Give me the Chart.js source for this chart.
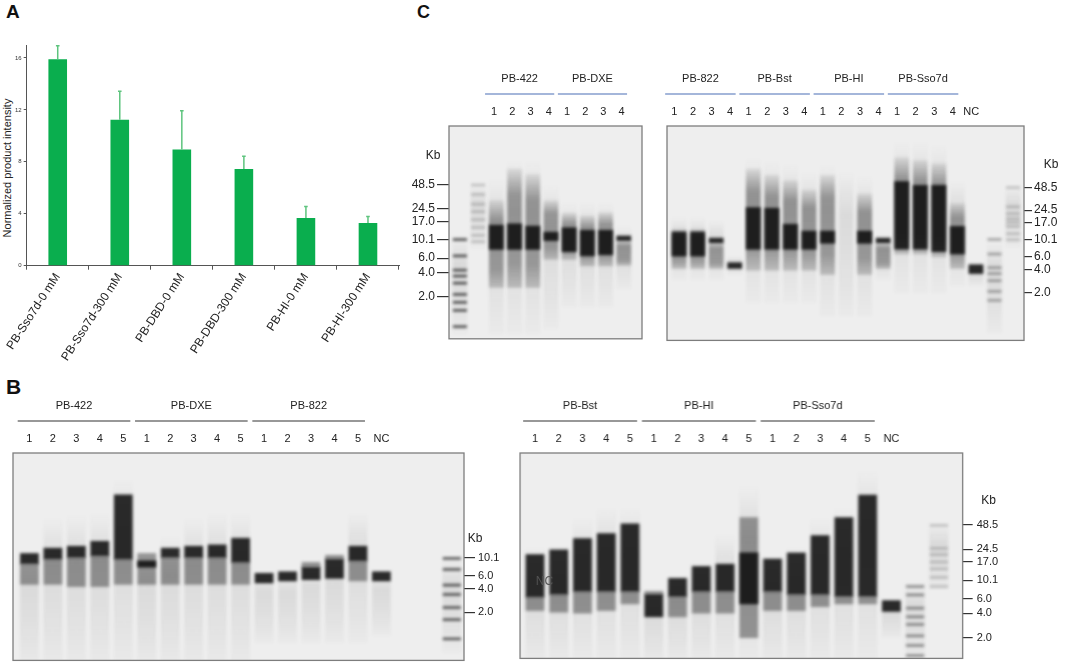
<!DOCTYPE html>
<html lang="en">
<head>
<meta charset="UTF-8">
<title>PB fusion polymerases</title>
<script src="https://cdn.jsdelivr.net/npm/chart.js"></script>
<style>
  body { margin: 0; background: #fff; font-family: Arial, "Liberation Sans", sans-serif; color: #222; }
  #page { position: relative; width: 1065px; height: 671px; overflow: hidden; }
  .box { position: absolute; }
  .letter { position: absolute; font-weight: bold; line-height: 1; color: #111; }
  #ytitle { position: absolute; left: 7px; top: 168px; font-size: 11px; white-space: nowrap; color: #222;
            transform: translate(-50%, -50%) rotate(-90deg); }
</style>
</head>
<body>
<div id="page">
  <div class="letter" style="left:6px;top:1.5px;font-size:19px">A</div>
  <div class="letter" style="left:6px;top:375.5px;font-size:21px">B</div>
  <div class="letter" style="left:417px;top:2.7px;font-size:18px">C</div>
  <div id="ytitle">Normalized product intensity</div>

  <div class="box" style="left:0;top:0;width:410px;height:370px"><canvas id="barChart"></canvas></div>
  <div class="box" style="left:404px;top:65.7px;width:240px;height:282px"><canvas id="gelC1"></canvas></div>
  <div class="box" style="left:665px;top:65.7px;width:399px;height:283.6px"><canvas id="gelC2"></canvas></div>
  <div class="box" style="left:11.3px;top:393.3px;width:495px;height:277px"><canvas id="gelB1"></canvas></div>
  <div class="box" style="left:518px;top:392.7px;width:488.7px;height:276px"><canvas id="gelB2"></canvas></div>
</div>

<script>
Chart.defaults.font.family = 'Arial, "Liberation Sans", sans-serif';
Chart.defaults.color = '#222';

// ---- panel A: normalized product intensity ----
const samples = ['PB-Sso7d-0 mM', 'PB-Sso7d-300 mM', 'PB-DBD-0 mM', 'PB-DBD-300 mM', 'PB-HI-0 mM', 'PB-HI-300 mM'];
const intensity = [15.9, 11.25, 8.95, 7.45, 3.68, 3.28];
const intensitySd = [1.05, 2.18, 2.98, 0.99, 0.88, 0.51];

// ---- gel data: bands as [low kb, high kb] per lane ----
const kbTicks = [48.5, 24.5, 17.0, 10.1, 6.0, 4.0, 2.0];
const kbTicksShort = [10.1, 6.0, 4.0, 2.0];

// C, left gel
const gelC1Lanes = ['', '', '1', '2', '3', '4', '1', '2', '3', '4'];
const gelC1Groups = [{ name: 'PB-422', from: 2, to: 5 }, { name: 'PB-DXE', from: 6, to: 9 }];
const gelC1Core = [null, null, [7.7, 15.4], [7.7, 16], [7.7, 15], [9.9, 12.6], [7.2, 14.3], [6.4, 13.3], [6.6, 13.3], [9.9, 11.3]];
const gelC1Body = [null, null, [2.6, 31], [2.6, 77], [2.6, 65], [5.8, 31], [5.8, 21.6], [4.8, 20], [4.8, 22], [4.9, 9.9]];
const gelC1Faint = [[0.7, 12], [8, 50], [0.7, 60], [0.7, 100], [0.7, 100], [0.8, 50], [1.5, 30], [1.5, 30], [1.5, 30], [2.5, 15]];
const gelC1LadderDark = [10.2, 6.4, 4.26, 3.6, 2.94, 2.13, 1.7, 1.35, 0.85];
const gelC1LadderLight = [48.5, 37, 28, 22.6, 18, 14.4, 11.5, 9.6];

// C, right gel
const gelC2Lanes = ['1', '2', '3', '4', '1', '2', '3', '4', '1', '2', '3', '4', '1', '2', '3', '4', 'NC', '', ''];
const gelC2Groups = [{ name: 'PB-822', from: 0, to: 3 }, { name: 'PB-Bst', from: 4, to: 7 },
                     { name: 'PB-HI', from: 8, to: 11 }, { name: 'PB-Sso7d', from: 12, to: 15 }];
const gelC2Core = [[6.1, 12.7], [6.1, 12.7], [9.1, 10.5], [4.2, 5.0], [7.5, 26.5], [7.5, 26], [7.5, 16], [7.5, 13],
                   [9, 13], null, [9, 13], [9.1, 10.5], [7.5, 58], [7.5, 52], [7.0, 52], [6.5, 15], [3.6, 4.7], null, null];
const gelC2Body = [[4.2, 13.8], [4.2, 13.8], [4.2, 9.1], null, [4, 85], [4, 70], [4, 60], [4, 45],
                   [3.5, 70], null, [3.5, 40], [4.2, 9.1], [6.5, 120], [6.5, 110], [6.0, 100], [4.2, 30], null, null, null];
const gelC2Faint = [[3, 20], [3, 20], [3, 18], [3.5, 6], [1.5, 120], [1.5, 110], [1.5, 100], [1.5, 80],
                    [1, 100], [1, 80], [1, 70], [3, 12], [2, 200], [2, 200], [2, 180], [2.5, 60], [2.5, 5], [0.6, 10], [8, 50]];
const gelC2LadderDark = [10.1, 6.5, 4.3, 3.6, 2.9, 2.1, 1.6];
const gelC2LadderLight = [48.5, 27, 22, 19, 17, 15, 12, 10];

// B, left gel
const gelB1Lanes = ['1', '2', '3', '4', '5', '1', '2', '3', '4', '5', '1', '2', '3', '4', '5', 'NC', '', '', ''];
const gelB1Groups = [{ name: 'PB-422', from: 0, to: 4 }, { name: 'PB-DXE', from: 5, to: 9 }, { name: 'PB-822', from: 10, to: 14 }];
const gelB1Core = [[8.5, 11.6], [9.8, 13.6], [10.3, 14.4], [10.8, 16.7], [9.8, 67], [7.7, 9.3], [10.3, 13.6], [10.3, 14.4],
                   [10.3, 15.0], [8.9, 18.3], [4.8, 6.4], [5.1, 6.7], [5.3, 7.7], [5.5, 9.8], [9.3, 14.4], [5.1, 6.7], null, null, null];
const gelB1Body = [[4.6, 8.5], [4.6, 9.8], [4.3, 10.3], [4.3, 10.8], [4.6, 9.8], [4.6, 11.6], [4.6, 10.3], [4.6, 10.3],
                   [4.6, 10.3], [4.6, 8.9], null, null, [7.7, 8.9], [9.8, 11.0], [5.1, 9.3], null, null, null, null];
const gelB1Faint = [[0.4, 12], [0.4, 34], [0.4, 38], [0.4, 40], [0.4, 110], [0.4, 13], [0.4, 20], [0.4, 34],
                    [0.4, 40], [0.4, 40], [0.8, 7], [0.8, 7], [0.8, 9], [0.8, 11], [0.8, 40], [1.0, 7], null, null, [0.6, 11]];
const gelB1Ladder = [10.0, 7.2, 4.5, 3.4, 2.3, 1.6, 0.9];

// B, right gel
const gelB2Lanes = ['1', '2', '3', '4', '5', '1', '2', '3', '4', '5', '1', '2', '3', '4', '5', 'NC', '', ''];
const gelB2Groups = [{ name: 'PB-Bst', from: 0, to: 4 }, { name: 'PB-HI', from: 5, to: 9 }, { name: 'PB-Sso7d', from: 10, to: 14 }];
const gelB2Core = [[6.3, 21], [6.8, 24], [7.4, 33], [7.4, 38], [7.4, 50], [3.6, 6.8], [6.4, 10.7], [7.4, 15], [7.4, 16],
                   [5.2, 22], [7.4, 18.5], [6.8, 22], [6.8, 36], [6.4, 60], [6.4, 113], [4.2, 5.7], null, null];
const gelB2Body = [[4.3, 6.3], [4.1, 6.8], [4.0, 7.4], [4.3, 7.4], [5.2, 7.4], [6.8, 7.4], [3.6, 6.4], [4.0, 7.4], [4.0, 7.4],
                   [2.0, 60], [4.3, 7.4], [4.3, 6.8], [4.8, 6.8], [5.2, 6.4], [5.2, 6.4], null, null, null];
const gelB2Faint = [[1.0, 26], [1.0, 28], [1.0, 60], [1.0, 80], [1.0, 80], [1.0, 8], [1.0, 12], [1.0, 18], [1.0, 38],
                    [1.0, 150], [1.0, 21], [1.0, 26], [1.0, 60], [1.0, 80], [1.0, 233], [2.0, 5.7], [1.0, 10], [8, 50]];
const gelB2LadderDark = [8.5, 6.7, 4.6, 3.6, 2.9, 2.1, 1.6, 1.2];
const gelB2LadderLight = [48, 25, 21, 17, 14, 11, 8.5];

// ---- panel A chart ----
const errorBars = {
  id: 'errorBars',
  afterDatasetsDraw(chart) {
    const { ctx, scales: { y } } = chart;
    const meta = chart.getDatasetMeta(0);
    ctx.save();
    ctx.strokeStyle = '#5ec47e';
    ctx.lineWidth = 1.5;
    meta.data.forEach((bar, i) => {
      const top = y.getPixelForValue(intensity[i] + intensitySd[i]);
      ctx.beginPath();
      ctx.moveTo(bar.x, bar.y);
      ctx.lineTo(bar.x, top);
      ctx.moveTo(bar.x - 1.8, top);
      ctx.lineTo(bar.x + 1.8, top);
      ctx.stroke();
    });
    ctx.restore();
  }
};

new Chart(document.getElementById('barChart'), {
  type: 'bar',
  data: {
    labels: samples,
    datasets: [{ data: intensity, backgroundColor: '#0aae4e', barPercentage: 0.3, categoryPercentage: 1 }]
  },
  options: {
    responsive: true,
    maintainAspectRatio: false,
    animation: false,
    layout: { padding: { top: 45, right: 11, left: 0, bottom: 0 } },
    plugins: { legend: { display: false }, tooltip: { enabled: false } },
    scales: {
      x: {
        grid: { drawOnChartArea: false, offset: true, tickLength: 4, color: '#555' },
        border: { color: '#555' },
        ticks: { minRotation: 57, maxRotation: 57, padding: 1, font: { size: 12 }, color: '#222' },
        afterFit: s => { s.height = 104.3; }
      },
      y: {
        min: 0,
        max: 17,
        ticks: { stepSize: 4, includeBounds: false, padding: 2, font: { size: 6 }, color: '#333' },
        grid: { drawOnChartArea: false, tickLength: 3, color: '#555' },
        border: { color: '#555' },
        afterFit: s => { s.width = 26.7; }
      }
    }
  },
  plugins: [errorBars]
});

// ---- gels ----
// smears fade out towards their top end
function fadeFill(stops) {
  return c => {
    const p = c.parsed && c.parsed._custom;
    const y = c.chart.scales.y;
    if (!p || !y) return `rgba(25,25,25,${stops[1][1]})`;
    const top = y.getPixelForValue(p.max);
    const bot = y.getPixelForValue(p.min);
    if (!isFinite(top) || !isFinite(bot) || bot - top < 1) return `rgba(25,25,25,${stops[1][1]})`;
    const g = c.chart.ctx.createLinearGradient(0, top, 0, bot);
    stops.forEach(([o, a]) => g.addColorStop(o, `rgba(25,25,25,${a})`));
    return g;
  };
}

function gelDeco(g) {
  return {
    id: 'gelDeco',
    beforeDatasetsDraw(chart) {
      const { ctx, chartArea: a } = chart;
      ctx.save();
      ctx.fillStyle = '#eeeeee';
      ctx.fillRect(a.left, a.top, a.width, a.height);
      ctx.beginPath();
      ctx.rect(a.left, a.top, a.width, a.height);
      ctx.clip();
      ctx.filter = 'blur(1.6px)';
    },
    afterDatasetsDraw(chart) {
      const { ctx, chartArea: a, scales: { x, y } } = chart;
      ctx.restore();
      ctx.save();
      ctx.strokeStyle = '#7d7d7d';
      ctx.lineWidth = 1.3;
      ctx.strokeRect(a.left, a.top, a.width, a.height);

      ctx.fillStyle = '#222';
      ctx.font = '11px Arial, "Liberation Sans", sans-serif';
      ctx.textAlign = 'center';
      ctx.textBaseline = 'middle';
      g.lanes.forEach((t, i) => ctx.fillText(t, x.getPixelForValue(i + g.shift), a.top - 14));

      ctx.strokeStyle = g.lineColor;
      ctx.lineWidth = 1.2;
      g.groups.forEach(gr => {
        const x0 = x.getPixelForValue(gr.from - 0.5 + g.shift);
        const x1 = x.getPixelForValue(gr.to + 0.3 + g.shift);
        ctx.fillText(gr.name, (x0 + x1) / 2, a.top - 47);
        ctx.beginPath();
        ctx.moveTo(x0, a.top - 32);
        ctx.lineTo(x1, a.top - 32);
        ctx.stroke();
      });

      ctx.font = '12px Arial, "Liberation Sans", sans-serif';
      const side = g.axis === 'left' ? a.left : a.right;
      ctx.fillText('Kb', side + g.kbDx, y.getPixelForValue(g.ticks[0]) - g.kbDy);

      if (g.note) {
        ctx.fillStyle = '#555';
        ctx.fillText(g.note.text, x.getPixelForValue(g.note.lane), y.getPixelForValue(g.note.kb));
      }
      ctx.restore();
    }
  };
}

function makeGel(id, g) {
  const toBars = arr => arr.map((r, i) => (r ? { x: i, y: r } : null)).filter(Boolean);
  const bodyFill = g.bodyFade
    ? fadeFill([[0, 0.08], [0.22, 0.38], [0.8, 0.36], [1, 0.2]])
    : 'rgba(30,30,30,0.42)';
  const datasets = [
    { data: toBars(g.core), backgroundColor: 'rgba(10,10,10,0.86)' },
    { data: toBars(g.body), backgroundColor: bodyFill },
    { data: toBars(g.faint), backgroundColor: fadeFill([[0, 0], [0.3, 0.09], [0.6, 0.07], [1, 0.02]]) }
  ];
  g.ladders.forEach(l => datasets.push({
    type: 'line',
    data: l.kb.map(k => ({ x: l.lane, y: k })),
    showLine: false,
    pointStyle: 'line',
    pointRadius: g.bar / 2,
    pointBorderWidth: 2.6,
    pointBorderColor: l.color
  }));

  new Chart(document.getElementById(id), {
    type: 'bar',
    data: { datasets },
    options: {
      responsive: true,
      maintainAspectRatio: false,
      animation: false,
      layout: { padding: g.pad, autoPadding: false },
      datasets: { bar: { grouped: false, barThickness: g.bar, borderWidth: 0, borderSkipped: false } },
      plugins: { legend: { display: false }, tooltip: { enabled: false } },
      scales: {
        x: {
          type: 'linear', display: false, offset: false, min: g.xMin, max: g.xMax,
          ticks: { display: false },
          afterFit: s => { s.paddingLeft = 0; s.paddingRight = 0; }
        },
        y: {
          type: 'logarithmic',
          position: g.axis,
          min: g.min,
          max: g.max,
          afterBuildTicks: s => { s.ticks = g.ticks.map(v => ({ value: v })); },
          afterFit: s => { s.width = g.axisWidth; },
          ticks: { callback: v => Number(v).toFixed(1), padding: g.tickPad, font: { size: g.tickFont }, color: '#222', autoSkip: false },
          grid: { drawOnChartArea: false, tickLength: g.tickLength, color: '#333', lineWidth: 1.2 },
          border: { display: false }
        }
      }
    },
    plugins: [gelDeco(g)]
  });
}

makeGel('gelC1', {
  lanes: gelC1Lanes, groups: gelC1Groups, core: gelC1Core, body: gelC1Body, faint: gelC1Faint, bodyFade: true,
  ladders: [{ kb: gelC1LadderDark, lane: 0, color: 'rgba(45,45,45,0.8)' }, { kb: gelC1LadderLight, lane: 1, color: 'rgba(90,90,90,0.3)' }],
  ticks: kbTicks, min: 0.604, max: 261, xMin: -0.6, xMax: 10.0,
  axis: 'left', axisWidth: 45, tickLength: 12, tickPad: 2, tickFont: 12, bar: 14,
  pad: { top: 60, left: 0, right: 2, bottom: 2 }, lineColor: '#4a6fb5', shift: -0.12, kbDx: -16, kbDy: 29
});

makeGel('gelC2', {
  lanes: gelC2Lanes, groups: gelC2Groups, core: gelC2Core, body: gelC2Body, faint: gelC2Faint, bodyFade: true,
  ladders: [{ kb: gelC2LadderDark, lane: 17, color: 'rgba(70,70,70,0.45)' }, { kb: gelC2LadderLight, lane: 18, color: 'rgba(90,90,90,0.3)' }],
  ticks: kbTicks, min: 0.477, max: 312, xMin: -0.65, xMax: 18.59,
  axis: 'right', axisWidth: 40, tickLength: 8, tickPad: 2, tickFont: 12, bar: 14,
  pad: { top: 60, left: 2, right: 0, bottom: 2 }, lineColor: '#4a6fb5', shift: -0.25, kbDx: 27, kbDy: 23
});

makeGel('gelB1', {
  lanes: gelB1Lanes, groups: gelB1Groups, core: gelB1Core, body: gelB1Body, faint: gelB1Faint, bodyFade: false,
  ladders: [{ kb: gelB1Ladder, lane: 18, color: 'rgba(40,40,40,0.75)' }],
  ticks: kbTicksShort, min: 0.472, max: 235, xMin: -0.70, xMax: 18.52,
  axis: 'right', axisWidth: 42, tickLength: 11, tickPad: 3, tickFont: 11, bar: 18,
  pad: { top: 60, left: 2, right: 0, bottom: 2 }, lineColor: '#333', shift: 0, kbDx: 11, kbDy: 19
});

makeGel('gelB2', {
  lanes: gelB2Lanes, groups: gelB2Groups, core: gelB2Core, body: gelB2Body, faint: gelB2Faint, bodyFade: false,
  ladders: [{ kb: gelB2LadderDark, lane: 16, color: 'rgba(60,60,60,0.55)' }, { kb: gelB2LadderLight, lane: 17, color: 'rgba(90,90,90,0.3)' }],
  ticks: kbTicks, min: 1.109, max: 373, xMin: -0.63, xMax: 18.0,
  axis: 'right', axisWidth: 45, tickLength: 10, tickPad: 4, tickFont: 11, bar: 18,
  pad: { top: 60, left: 2, right: 0, bottom: 2 }, lineColor: '#333', shift: 0, kbDx: 26, kbDy: 24,
  note: { text: 'NC', lane: 0.4, kb: 9.8 }
});
</script>
</body>
</html>
